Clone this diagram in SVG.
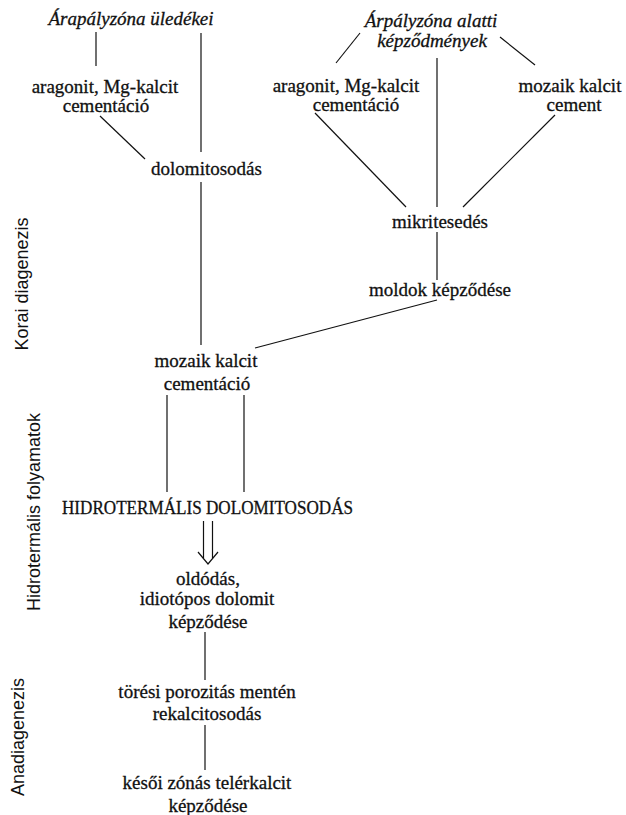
<svg xmlns="http://www.w3.org/2000/svg" width="626" height="815" viewBox="0 0 626 815">
<style>
.t{font-family:"Liberation Serif","Times New Roman",serif;font-size:19px;fill:#111;stroke:#111;stroke-width:0.3;text-anchor:middle}
.i{font-style:italic}
.s{font-family:"Liberation Sans",Arial,sans-serif;font-size:18px;fill:#111;text-anchor:middle}
.c line,.c polyline{stroke:#111;stroke-width:1.2;fill:none}
</style>
<rect width="626" height="815" fill="#fff"/>
<g id="connectors" class="c">
<line x1="96" y1="32" x2="96" y2="66"/>
<line x1="201" y1="33" x2="201" y2="152"/>
<line x1="100" y1="116" x2="145" y2="159"/>
<line x1="201" y1="182" x2="201" y2="345"/>
<line x1="360" y1="33" x2="336" y2="63"/>
<line x1="500" y1="37" x2="535" y2="65"/>
<line x1="437" y1="58" x2="437" y2="207"/>
<line x1="315" y1="113" x2="406" y2="207"/>
<line x1="555" y1="115" x2="463" y2="207"/>
<line x1="437" y1="232" x2="437" y2="280"/>
<line x1="437" y1="300" x2="255" y2="348"/>
<line x1="167" y1="395" x2="167" y2="492"/>
<line x1="244" y1="395" x2="244" y2="492"/>
<line x1="203.5" y1="521" x2="203.5" y2="558"/>
<line x1="212.5" y1="521" x2="212.5" y2="558"/>
<polyline points="198,552 208,564 218,552"/>
<line x1="205" y1="632" x2="205" y2="680"/>
<line x1="205" y1="725" x2="205" y2="770"/>
</g>
<g id="n-arapalyzona"><text class="t i" x="131" y="25">Árapályzóna üledékei</text></g>
<g id="n-arpalyzona-alatti"><text class="t i" x="431" y="27">Árpályzóna alatti</text><text class="t i" x="432" y="47">képződmények</text></g>
<g id="n-aragonit-left"><text class="t" x="105" y="93">aragonit, Mg-kalcit</text><text class="t" x="106" y="112">cementáció</text></g>
<g id="n-aragonit-right"><text class="t" x="346" y="92">aragonit, Mg-kalcit</text><text class="t" x="356" y="111">cementáció</text></g>
<g id="n-mozaik-cement"><text class="t" x="570" y="92">mozaik kalcit</text><text class="t" x="574" y="111">cement</text></g>
<g id="n-dolomitosodas"><text class="t" x="206.5" y="175">dolomitosodás</text></g>
<g id="n-mikritesedes"><text class="t" x="440" y="228">mikritesedés</text></g>
<g id="n-moldok"><text class="t" x="440" y="296">moldok képződése</text></g>
<g id="n-mozaik-cementacio"><text class="t" x="206" y="367">mozaik kalcit</text><text class="t" x="207" y="390">cementáció</text></g>
<g id="n-hidrotermalis"><text class="t" x="207.5" y="514" textLength="291" lengthAdjust="spacingAndGlyphs">HIDROTERMÁLIS DOLOMITOSODÁS</text></g>
<g id="n-oldodas"><text class="t" x="208" y="585">oldódás,</text><text class="t" x="207" y="605">idiotópos dolomit</text><text class="t" x="208" y="628">képződése</text></g>
<g id="n-toresi"><text class="t" x="207" y="698">törési porozitás mentén</text><text class="t" x="207" y="720">rekalcitosodás</text></g>
<g id="n-kesoi"><text class="t" x="207" y="789">késői zónás telérkalcit</text><text class="t" x="208" y="812">képződése</text></g>
<g id="labels">
<text class="s" transform="translate(28,284) rotate(-90)">Korai diagenezis</text>
<text class="s" transform="translate(40,512) rotate(-90)">Hidrotermális folyamatok</text>
<text class="s" transform="translate(24,737) rotate(-90)">Anadiagenezis</text>
</g>
</svg>
